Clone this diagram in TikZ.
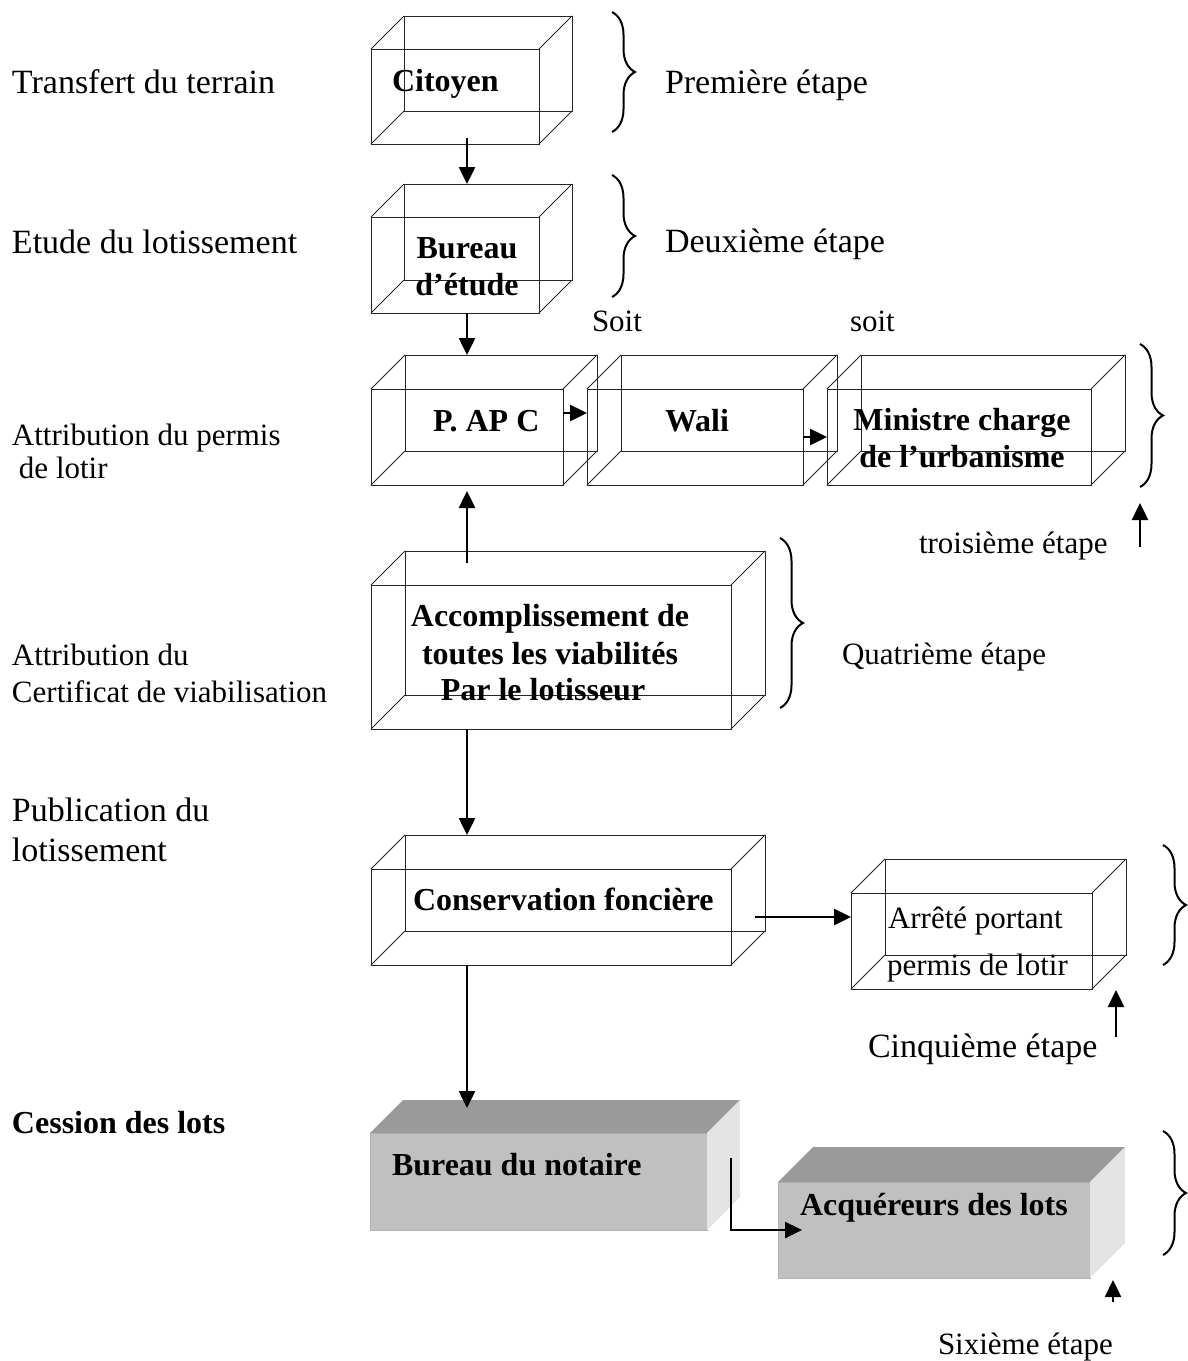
\documentclass[tikz,border=0pt]{standalone}
\usepackage{fontspec}
\setmainfont{Liberation Serif}
\usetikzlibrary{arrows.meta,calc,decorations.pathreplacing}

\definecolor{frontgray}{HTML}{C0C0C0}
\definecolor{topgray}{HTML}{9A9A9A}
\definecolor{sidegray}{HTML}{E4E4E4}

\tikzset{
  lbl/.style={anchor=base west, inner sep=0pt, outer sep=0pt, font=\fontsize{34}{40}\selectfont},
  lblsm/.style={lbl, font=\fontsize{31}{36}\selectfont},
  boxtxt/.style={anchor=base west, inner sep=0pt, outer sep=0pt, font=\bfseries\fontsize{32}{37}\selectfont},
  boxtxtc/.style={boxtxt, anchor=base},
  face/.style={draw=black!85, line width=1pt, inner sep=0pt, outer sep=0pt},
  edgethree/.style={draw=black!85, line width=1pt},
  solidfront/.style={fill=frontgray, draw=black!30, line width=0.8pt, inner sep=0pt, outer sep=0pt},
  arr/.style={line width=2.5pt, -{Triangle[length=17pt,width=16pt]}},
  brc/.style={decorate, decoration={brace, amplitude=23pt}, line width=2pt},
}

% transparent box: front face (#1), back face (#1b) and the four depth edges
\newcommand\wirecube[6]{%
  \node[face,anchor=north west,minimum width=#4pt,minimum height=#5pt] (#1b) at ({#2+#6},{#3-#6}) {};
  \node[face,anchor=north west,minimum width=#4pt,minimum height=#5pt] (#1) at (#2,#3) {};
  \foreach \cc in {north west,north east,south west,south east}
    \draw[edgethree] (#1.\cc) -- (#1b.\cc);
}
% shaded solid box: front face (#1) with a top and a right side face
\newcommand\solidcube[6]{%
  \node[solidfront,anchor=north west,minimum width=#4pt,minimum height=#5pt] (#1) at (#2,#3) {};
  \fill[topgray] (#1.north west) -- ++(#6,-#6) -- ($(#1.north east)+(#6,-#6)$) -- (#1.north east) -- cycle;
  \fill[sidegray] (#1.north east) -- ++(#6,-#6) -- ($(#1.south east)+(#6,-#6)$) -- (#1.south east) -- cycle;
}

\begin{document}
\begin{tikzpicture}[x=1pt,y=-1pt]
\useasboundingbox (0,0) rectangle (1187,1361);
\coordinate (spine) at (467,0);

% ---- boxes
\wirecube{citoyen}{371}{49}{168}{95}{33}
\wirecube{bureau}{371}{217}{168}{96}{33}
\wirecube{papc}{371}{389}{192}{96}{34}
\wirecube{wali}{587}{389}{216}{96}{34}
\wirecube{ministre}{827}{389}{264}{96}{34}
\wirecube{acc}{371}{585}{360}{144}{34}
\wirecube{cons}{371}{869}{360}{96}{34}
\wirecube{arrete}{851}{893}{241}{96}{34}
\solidcube{notaire}{370}{1133}{337}{97}{33}
\solidcube{acq}{778}{1182}{312}{96}{35}

% ---- texts inside the boxes
\node[boxtxt] (t-cit) at (392,91) {Citoyen};
\node[boxtxtc] (t-bur1) at (467,258) {Bureau};
\node[boxtxtc] (t-bur2) at (467,295) {d’étude};
\node[boxtxt] (t-papc) at (433,431) {P. AP C};
\node[boxtxt] (t-wali) at (665,431) {Wali};
\node[boxtxtc] (t-min1) at (962,430) {Ministre charge};
\node[boxtxtc] (t-min2) at (962,467) {de l’urbanisme};
\node[boxtxtc] (t-acc1) at (550,626) {Accomplissement de};
\node[boxtxtc] (t-acc2) at (550,664) {toutes les viabilités};
\node[boxtxtc] (t-acc3) at (543,700) {Par le lotisseur};
\node[boxtxt] (t-cons) at (413,910) {Conservation foncière};
\node[lblsm] (t-arr1) at (888,928) {Arrêté portant};
\node[lblsm] (t-arr2) at (887,975) {permis de lotir};
\node[boxtxt] (t-not) at (392,1175) {Bureau du notaire};
\node[boxtxt] (t-acq) at (800,1215) {Acquéreurs des lots};

% ---- left column
\node[lbl] (l1) at (12,93) {Transfert du terrain};
\node[lbl] (l2) at (12,253) {Etude du lotissement};
\node[lblsm] (l3a) at (12,445) {Attribution du permis};
\node[lblsm] (l3b) at (19,478) {de lotir};
\node[lblsm] (l4a) at (12,665) {Attribution du};
\node[lblsm] (l4b) at (12,702) {Certificat de viabilisation};
\node[lbl] (l5a) at (12,821) {Publication du};
\node[lbl] (l5b) at (12,861) {lotissement};
\node[boxtxt] (l6) at (12,1133) {Cession des lots};

% ---- stage labels
\node[lbl] (s1) at (665,93) {Première étape};
\node[lbl] (s2) at (665,252) {Deuxième étape};
\node[lblsm] (soit1) at (592,331) {Soit};
\node[lblsm] (soit2) at (850,331) {soit};
\node[lblsm] (s3) at (919,553) {troisième étape};
\node[lblsm] (s4) at (842,664) {Quatrième étape};
\node[lbl] (s5) at (868,1057) {Cinquième étape};
\node[lblsm] (s6) at (938,1354) {Sixième étape};

% ---- braces
\draw[brc] (612,12) -- (612,132);
\draw[brc] (612,175) -- (612,297);
\draw[brc] (1140,344) -- (1140,487);
\draw[brc] (780,538) -- (780,708);
\draw[brc] (1163,845) -- (1163,965);
\draw[brc] (1163,1131) -- (1163,1255);

% ---- connectors
\draw[arr] ($(citoyen.south -| spine)+(0,-6)$) -- (bureaub.north -| spine);
\draw[arr] (bureau.south -| spine) -- (papcb.north -| spine);
\draw[arr] ([yshift=24pt]papc.east) -- ([yshift=24pt]wali.west);
\draw[arr] (wali.east) -- (ministre.west);
\draw[arr] ($(acc.north -| spine)+(0,-22)$) -- ($(papc.south -| spine)+(0,6)$);
\draw[arr] (acc.south -| spine) -- (consb.north -| spine);
\draw[arr] ($(cons.east)+(24,0)$) -- (arrete.west |- cons.east);
\draw[arr] (cons.south -| spine) -- ($(notaire.north -| spine)+(0,-25)$);
\draw[arr] ($(notaire.east)+(24,-24)$) |- ($(acq.west)+(24,0)$);

% ---- small pointers under the braces
\coordinate (u3a) at (1140,547); \coordinate (u3b) at (1140,503);
\coordinate (u5a) at (1116,1037); \coordinate (u5b) at (1116,990);
\coordinate (u6a) at (1113,1302); \coordinate (u6b) at (1113,1280);
\draw[arr] (u3a) -- (u3b);
\draw[arr] (u5a) -- (u5b);
\draw[arr] (u6a) -- (u6b);
\end{tikzpicture}
\end{document}
